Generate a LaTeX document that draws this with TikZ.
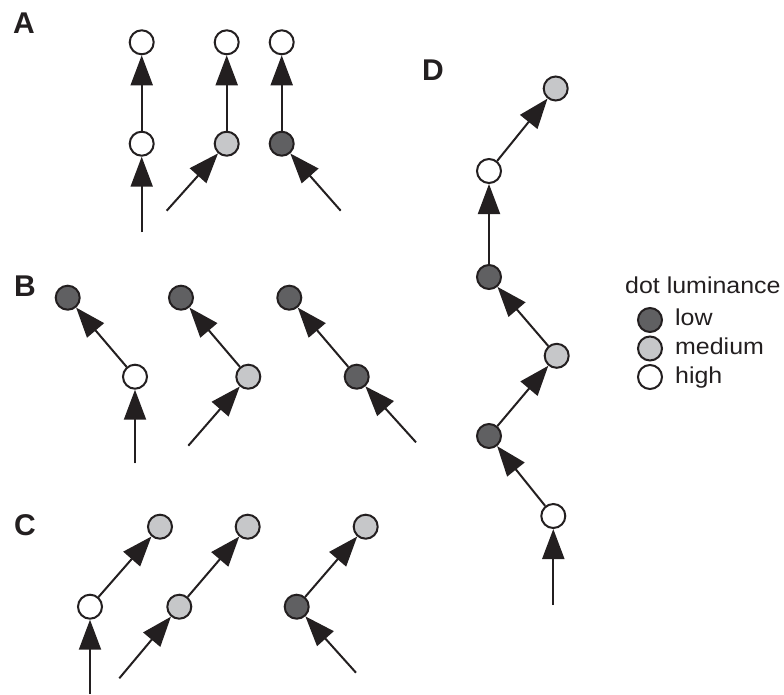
\documentclass[tikz,border=0pt]{standalone}
\usepackage{fontspec}
\setmainfont{Liberation Sans}
\usetikzlibrary{arrows.meta}
\definecolor{ink}{HTML}{231F20}
\definecolor{dotdark}{HTML}{606062}
\definecolor{dotlight}{HTML}{C6C7C9}
\tikzset{
  dot/.style={circle, draw=ink, line width=2pt, minimum size=24pt, inner sep=0pt},
  dk/.style={dot, fill=dotdark},
  lt/.style={dot, fill=dotlight},
  wh/.style={dot, fill=white},
  arr/.style={draw=ink, line width=2pt, -{Triangle[length=30pt,width=22pt]}, fill=ink},
  panel/.style={anchor=base west, inner sep=0pt, font=\fontsize{30}{34}\selectfont\bfseries, text=ink},
  legtext/.style={anchor=base west, inner sep=0pt, font=\fontsize{23}{27}\selectfont, text=ink}
}
\begin{document}
\begin{tikzpicture}[x=1pt,y=-1pt]
\useasboundingbox (0,0) rectangle (784,694);
% labels
\node[panel] (labA) at (13,33.3) {A};
\node[panel] (labB) at (14,296.7) {B};
\node[panel] (labC) at (14,535) {C};
\node[panel] (labD) at (422,80.7) {D};
% Panel A
\node[wh] (a1t) at (141.7,42.3) {};
\node[wh] (a1m) at (141.7,143.7) {};
\coordinate (ta1) at (141.7,232);
\node[wh] (a2t) at (226.7,42.3) {};
\node[lt] (a2m) at (226.7,143.7) {};
\coordinate (ta2) at (166.7,210.7);
\node[wh] (a3t) at (281.7,42.3) {};
\node[dk] (a3m) at (281.7,143.7) {};
\coordinate (ta3) at (340.7,210.7);
\draw[arr] (ta1) -- (a1m);
\draw[arr] (a1m) -- (a1t);
\draw[arr] (ta2) -- (a2m);
\draw[arr] (a2m) -- (a2t);
\draw[arr] (ta3) -- (a3m);
\draw[arr] (a3m) -- (a3t);
% Panel B
\node[dk] (b1t) at (67.7,297.7) {};
\node[wh] (b1m) at (135,376.7) {};
\coordinate (tb1) at (135,463.3);
\node[dk] (b2t) at (181,297.7) {};
\node[lt] (b2m) at (248.3,376.7) {};
\coordinate (tb2) at (188.3,445.7);
\node[dk] (b3t) at (289.3,297.7) {};
\node[dk] (b3m) at (356.7,376.7) {};
\coordinate (tb3) at (416,442.3);
\draw[arr] (tb1) -- (b1m);
\draw[arr] (b1m) -- (b1t);
\draw[arr] (tb2) -- (b2m);
\draw[arr] (b2m) -- (b2t);
\draw[arr] (tb3) -- (b3m);
\draw[arr] (b3m) -- (b3t);
% Panel C
\node[lt] (c1t) at (160,526.7) {};
\node[wh] (c1m) at (90,606.7) {};
\coordinate (tc1) at (90,694);
\node[lt] (c2t) at (247.7,526.7) {};
\node[lt] (c2m) at (179.3,606.7) {};
\coordinate (tc2) at (119.3,678.3);
\node[lt] (c3t) at (365.7,526.7) {};
\node[dk] (c3m) at (296.7,606.7) {};
\coordinate (tc3) at (356,672.7);
\draw[arr] (tc1) -- (c1m);
\draw[arr] (c1m) -- (c1t);
\draw[arr] (tc2) -- (c2m);
\draw[arr] (c2m) -- (c2t);
\draw[arr] (tc3) -- (c3m);
\draw[arr] (c3m) -- (c3t);
% Panel D
\node[wh] (d1) at (553.3,516) {};
\node[dk] (d2) at (489,436) {};
\node[lt] (d3) at (556.7,355.8) {};
\node[dk] (d4) at (489,277) {};
\node[wh] (d5) at (489,171) {};
\node[lt] (d6) at (555.7,88.5) {};
\coordinate (td) at (553.3,605);
\draw[arr] (td) -- (d1);
\draw[arr] (d1) -- (d2);
\draw[arr] (d2) -- (d3);
\draw[arr] (d3) -- (d4);
\draw[arr] (d4) -- (d5);
\draw[arr] (d5) -- (d6);
% Legend
\node[legtext] (legt) at (625,293.3) {\scalebox{1.085}[1]{dot luminance}};
\node[dk] (lg1) at (650,320) {};
\node[lt] (lg2) at (650,348.5) {};
\node[wh] (lg3) at (650,377) {};
\node[legtext] (lt1) at (675,325.5) {\scalebox{1.085}[1]{low}};
\node[legtext] (lt2) at (675,354) {\scalebox{1.085}[1]{medium}};
\node[legtext] (lt3) at (675,383.5) {\scalebox{1.085}[1]{high}};
\end{tikzpicture}
\end{document}
